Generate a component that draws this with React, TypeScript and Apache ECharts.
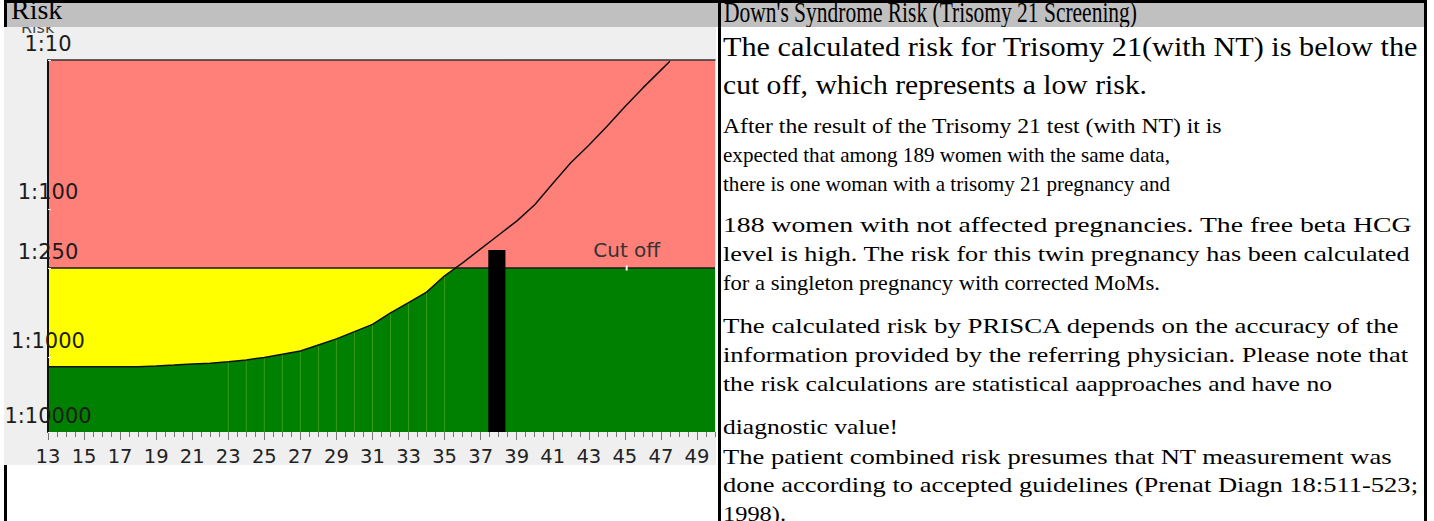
import React, { useEffect, useRef } from "react";
import * as echarts from "echarts";

// ---------- data ----------
const AGES = [13, 14, 15, 16, 17, 18, 19, 20, 21, 22, 23, 24, 25, 26, 27, 28, 29, 30, 31, 32, 33, 34, 35, 36, 37, 38, 39, 40, 41, 42, 43, 44, 45, 46, 47, 47.5];
const RISK_DENOM = [1325, 1325, 1325, 1325, 1325, 1325, 1294, 1259, 1219, 1189, 1137, 1074, 997, 950, 904, 822, 748, 669, 598, 501, 427, 363, 282, 231, 186, 150, 121, 94, 67.5, 49, 37.4, 28, 20.6, 15.4, 11.7, 10.2];
const STRIPE_AGES = [23, 24, 25, 26, 27, 28, 29, 30, 31, 32, 33, 34, 35];
const X_LABEL_AGES = [13, 15, 17, 19, 21, 23, 25, 27, 29, 31, 33, 35, 37, 39, 41, 43, 45, 47, 49];
const Y_TICK_RISKS = [10, 100, 250, 1000, 10000];
const Y_TICK_LABELS = ["1:10", "1:100", "1:250", "1:1000", "1:10000"];
const CUTOFF_RISK = 250;
const CUTOFF_LABEL = "Cut off";
const CUTOFF_LABEL_AGE = 45.1;
const PATIENT_AGE = 37.9;
const PATIENT_RISK = 189;
const X_MIN = 13;
const X_MAX = 50;

const LEFT_HEADER = "Risk";
const AXIS_NAME = "Risk";
const RIGHT_HEADER = "Down's Syndrome Risk (Trisomy 21 Screening)";
const HEADING_LINES = [
  "The calculated risk for Trisomy 21(with NT) is below the",
  "cut off, which represents a low risk.",
];
const BODY_LINES = [
  "After the result of the Trisomy 21 test (with NT) it is",
  "expected that among 189 women with the same data,",
  "there is one woman with a trisomy 21 pregnancy and",
  "188 women with not affected pregnancies. The free beta HCG",
  "level is high. The risk for this twin pregnancy has been calculated",
  "for a singleton pregnancy with corrected MoMs.",
  "The calculated risk by PRISCA depends on the accuracy of the",
  "information provided by the referring physician. Please note that",
  "the risk calculations are statistical aapproaches and have no",
  "diagnostic value!",
  "The patient combined risk presumes that NT measurement was",
  "done according to accepted guidelines (Prenat Diagn 18:511-523;",
  "1998).",
];
// layout of the report text (baselines and right edges, px)
const HEADING_BASES = [57, 94.5];
const HEADING_RIGHTS = [1418, 1147];
const BODY_BASES = [134, 163, 192, 233, 262, 291, 334, 363, 392, 435, 465, 493, 522];
const BODY_RIGHTS = [1222, 1170, 1170, 1412, 1410, 1160, 1400, 1408, 1332, 898, 1392, 1418, 786];

// axis transform: log scale, lowest decade compressed to half
const toT = (r: number) => {
  const l = Math.log10(r);
  return l <= 3 ? l : 3 + (l - 3) / 2;
};
const T_MIN = toT(Y_TICK_RISKS[0]);
const T_MAX = toT(Y_TICK_RISKS[Y_TICK_RISKS.length - 1]);

const SERIF = '"Liberation Serif", "Times New Roman", serif';
const SANS = '"DejaVu Sans", sans-serif';

let measureCtx: CanvasRenderingContext2D | null = null;
function measure(text: string, size: number) {
  if (!measureCtx) measureCtx = document.createElement("canvas").getContext("2d");
  if (!measureCtx) return text.length * size * 0.45;
  measureCtx.font = `${size}px "Liberation Serif"`;
  return measureCtx.measureText(text).width;
}

function Line(props: { x: number; base: number; size: number; right?: number; text: string }) {
  const { x, base, size, right, text } = props;
  let sx = 1;
  if (right !== undefined) {
    const nat = measure(text, size);
    sx = Math.min(Math.max((right - x) / nat, 0.6), 1.3);
  }
  return (
    <div
      style={{
        position: "absolute",
        left: x,
        top: base - 0.8375 * size,
        fontFamily: SERIF,
        fontSize: size,
        lineHeight: 1,
        whiteSpace: "nowrap",
        color: "#000",
        transform: `scaleX(${sx})`,
        transformOrigin: "left top",
      }}
    >
      {text}
    </div>
  );
}

function RiskChart() {
  const ref = useRef<HTMLDivElement>(null);
  useEffect(() => {
    if (!ref.current) return;
    const chart = echarts.init(ref.current, null, { renderer: "svg" });
    const curve = AGES.map((a, i) => [a, toT(RISK_DENOM[i])]);
    const tCut = toT(CUTOFF_RISK);
    const stripes = STRIPE_AGES.map((a) => [a, toT(RISK_DENOM[AGES.indexOf(a)])]);
    const yTickVals = Y_TICK_RISKS.map(toT);

    const option: any = {
      animation: false,
      backgroundColor: "transparent",
      grid: { left: 44, right: 1, top: 33, bottom: 45, containLabel: false, outerBoundsMode: "none" },
      graphic: [
        {
          type: "text",
          x: 17,
          y: 8,
          style: { text: AXIS_NAME, fontFamily: SANS, fontSize: 16, fill: "#444", align: "left", verticalAlign: "bottom" },
        },
      ],
      xAxis: [
        {
          type: "value",
          min: X_MIN,
          max: X_MAX,
          interval: 0.5,
          axisLine: { show: false },
          axisTick: { show: true, length: 5, lineStyle: { color: "#777", width: 1 } },
          axisLabel: {
            customValues: X_LABEL_AGES,
            fontFamily: SANS,
            fontSize: 19.5,
            color: "#222",
            margin: 14,
          },
          splitLine: { show: false },
        },
        {
          type: "value",
          min: X_MIN,
          max: X_MAX,
          position: "bottom",
          axisLine: { show: false },
          axisTick: { show: true, customValues: X_LABEL_AGES, length: 8, lineStyle: { color: "#777", width: 1 } },
          axisLabel: { show: false },
          splitLine: { show: false },
        },
        {
          type: "value",
          min: X_MIN,
          max: X_MAX,
          position: "top",
          axisLine: { show: true, lineStyle: { color: "#333", width: 1.5 } },
          axisTick: { show: false },
          axisLabel: { show: false },
          splitLine: { show: false },
          z: 10,
        },
      ],
      yAxis: {
        type: "value",
        inverse: true,
        min: T_MIN,
        max: T_MAX,
        z: 10,
        axisLine: { show: true, lineStyle: { color: "#111", width: 2 } },
        axisTick: { show: true, customValues: yTickVals, inside: true, length: 3, lineStyle: { color: "#fff", width: 1 } },
        axisLabel: {
          customValues: yTickVals,
          formatter: (v: number) => {
            const i = yTickVals.findIndex((t) => Math.abs(t - v) < 1e-6);
            return i >= 0 ? Y_TICK_LABELS[i] : "";
          },
          align: "center",
          verticalAlign: "bottom",
          margin: 0,
          padding: [0, 0, 6, 0],
          fontFamily: SANS,
          fontSize: 21,
          color: "#1c1c1c",
        },
        splitLine: { show: false },
      },
      series: [
        {
          type: "line",
          data: [[X_MIN, tCut], [X_MAX, tCut]],
          symbol: "none",
          lineStyle: { width: 0, opacity: 0 },
          areaStyle: { color: "#ffff00", opacity: 1, origin: "end" },
          z: 1,
        },
        {
          type: "line",
          data: curve.concat([[X_MAX, T_MIN]]),
          symbol: "none",
          lineStyle: { width: 0, opacity: 0 },
          areaStyle: { color: "#008000", opacity: 1, origin: "end" },
          z: 2,
        },
        {
          type: "custom",
          data: stripes,
          z: 3,
          renderItem: (params: any, api: any) => {
            const p1 = api.coord([api.value(0), api.value(1)]);
            const p2 = api.coord([api.value(0), T_MAX]);
            return {
              type: "line",
              shape: { x1: p1[0], y1: p1[1], x2: p2[0], y2: p2[1] },
              style: { stroke: "#3a9a14", lineWidth: 1 },
            };
          },
        },
        {
          type: "line",
          data: [[X_MIN, tCut], [X_MAX, tCut]],
          symbol: "none",
          lineStyle: { color: "#1a1a1a", width: 1.5 },
          areaStyle: { color: "#ff8078", opacity: 1, origin: "start" },
          z: 4,
          markPoint: {
            symbol: "rect",
            symbolSize: [2, 5],
            itemStyle: { color: "#ffffff" },
            label: {
              show: true,
              position: "top",
              distance: 6,
              formatter: CUTOFF_LABEL,
              fontFamily: SANS,
              fontSize: 20,
              color: "#333",
            },
            data: [{ coord: [CUTOFF_LABEL_AGE, tCut] }],
          },
        },
        {
          type: "line",
          data: curve,
          symbol: "none",
          lineStyle: { color: "#111", width: 1.5 },
          z: 5,
        },
        {
          type: "custom",
          data: [[PATIENT_AGE, toT(PATIENT_RISK)]],
          z: 6,
          renderItem: (params: any, api: any) => {
            const top = api.coord([api.value(0), api.value(1)]);
            const bottom = api.coord([api.value(0), T_MAX]);
            const w = api.size([0.95, 0])[0];
            return {
              type: "rect",
              shape: { x: top[0] - w / 2, y: top[1], width: w, height: bottom[1] - top[1] },
              style: { fill: "#000" },
            };
          },
        },
      ],
    };
    chart.setOption(option);
    return () => chart.dispose();
  }, []);
  return (
    <>
      <div style={{ position: "absolute", left: 4, top: 27, width: 712, height: 438, background: "#efefef" }} />
      <div ref={ref} style={{ position: "absolute", left: 4, top: 27, width: 712, height: 450 }} />
    </>
  );
}

export default function App() {
  return (
    <div style={{ position: "fixed", left: 0, top: 0, width: 1434, height: 521, background: "#fff", overflow: "hidden" }}>
      {/* borders */}
      <div style={{ position: "absolute", left: 4, top: 0, width: 1423, height: 3, background: "#000" }} />
      <div style={{ position: "absolute", left: 4, top: 0, width: 3, height: 521, background: "#000" }} />
      <div style={{ position: "absolute", left: 718, top: 0, width: 3, height: 521, background: "#000" }} />
      <div style={{ position: "absolute", left: 1424, top: 0, width: 3, height: 521, background: "#000" }} />
      {/* headers */}
      <div style={{ position: "absolute", left: 7, top: 3, width: 711, height: 24, background: "#c0c0c0", overflow: "hidden" }}>
        <Line x={4} base={16.5} size={28} text={LEFT_HEADER} />
      </div>
      <div style={{ position: "absolute", left: 721, top: 3, width: 703, height: 24, background: "#c0c0c0", overflow: "hidden" }}>
        <Line x={3} base={19.5} size={30} right={416} text={RIGHT_HEADER} />
      </div>
      <RiskChart />
      {/* right panel text */}
      <div style={{ position: "absolute", left: 0, top: 0, width: 1424, height: 521, overflow: "hidden" }}>
        {HEADING_LINES.map((t, i) => (
          <Line key={"h" + i} x={723} base={HEADING_BASES[i]} size={27} right={HEADING_RIGHTS[i]} text={t} />
        ))}
        {BODY_LINES.map((t, i) => (
          <Line key={"b" + i} x={723} base={BODY_BASES[i]} size={21.5} right={BODY_RIGHTS[i]} text={t} />
        ))}
      </div>
    </div>
  );
}
